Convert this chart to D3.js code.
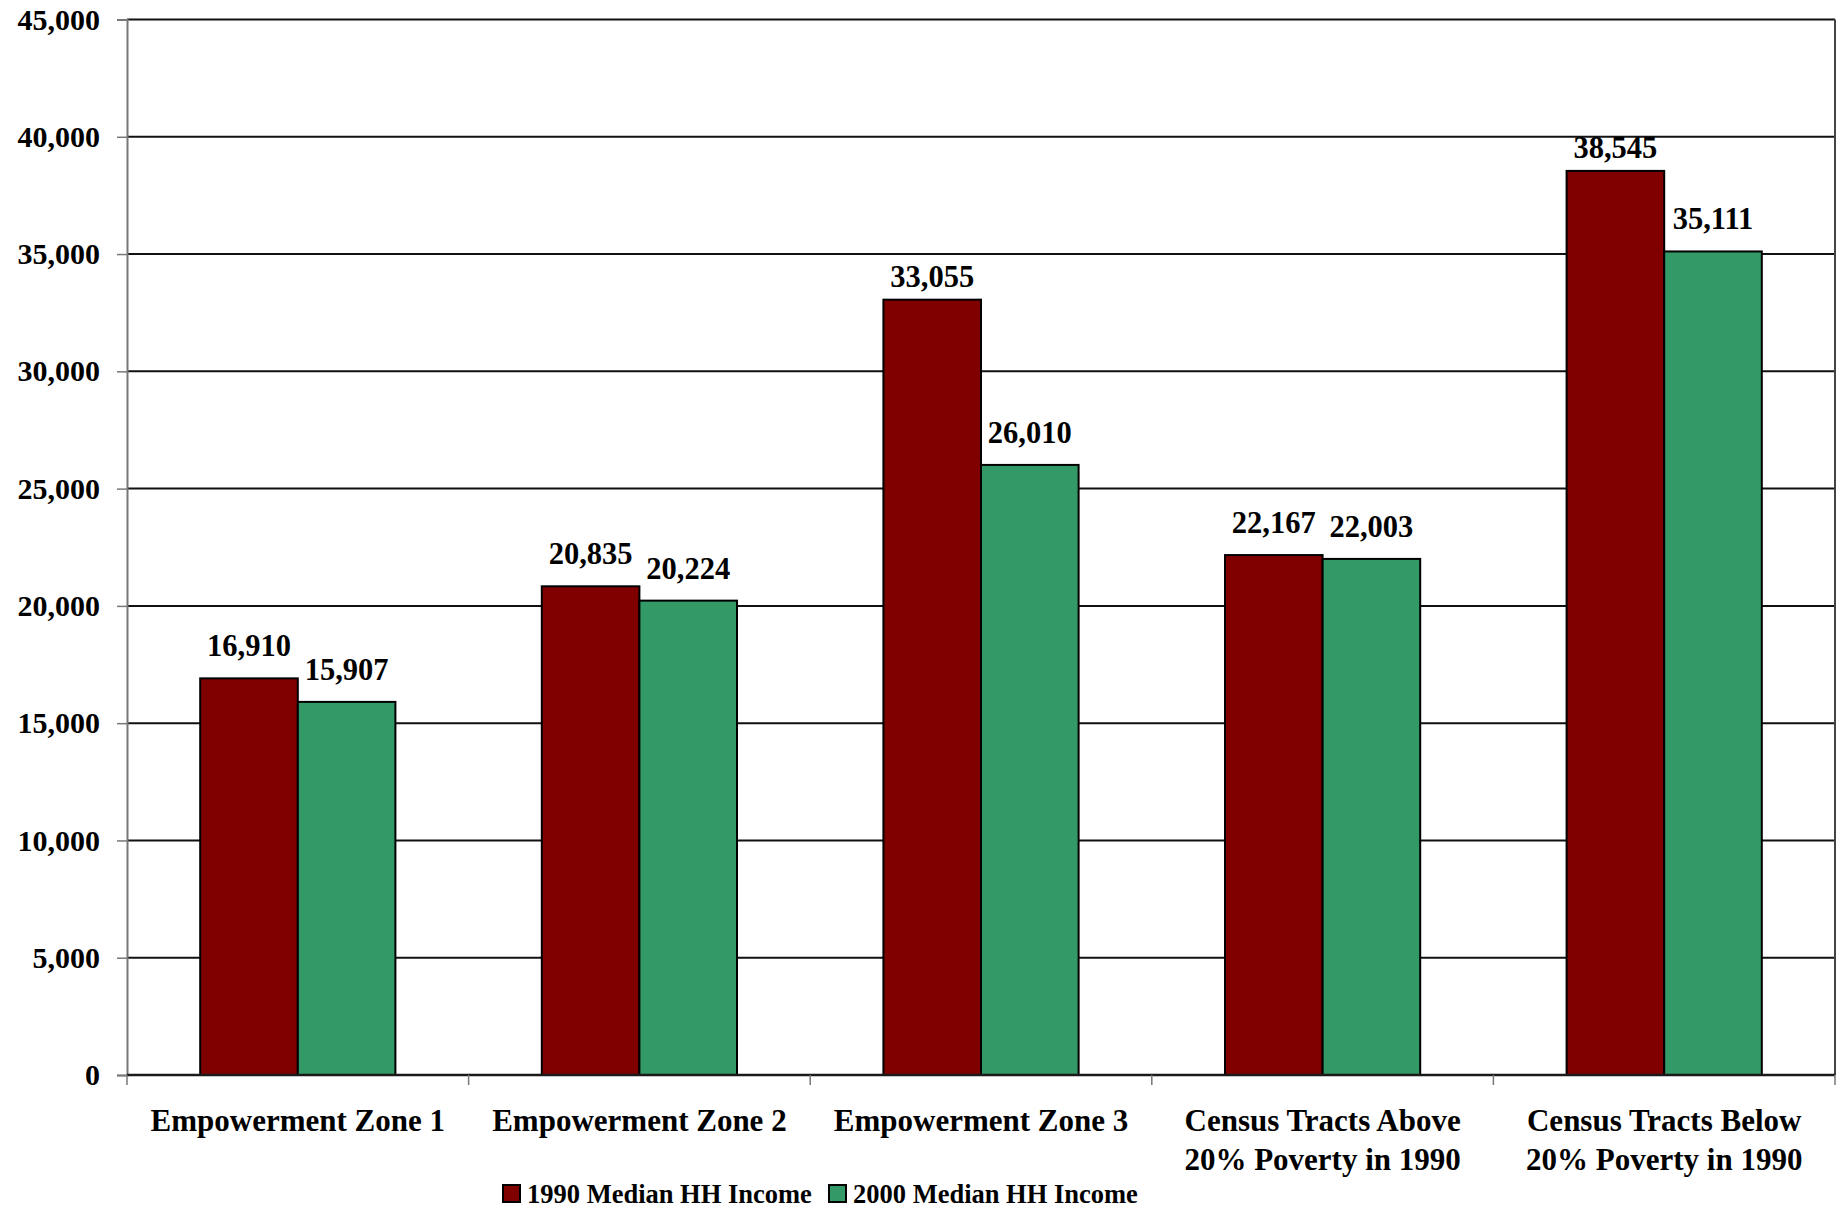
<!DOCTYPE html>
<html>
<head>
<meta charset="utf-8">
<script src="https://cdn.jsdelivr.net/npm/d3@7"></script>
<style>
  body { margin: 0; background: #fff; }
  text { font-family: "Liberation Serif", "Times New Roman", serif; font-weight: bold; fill: #000; }
</style>
</head>
<body>
<div id="chart"></div>
<script>
// chart data
var categories = ["Empowerment Zone 1", "Empowerment Zone 2", "Empowerment Zone 3",
                  "Census Tracts Above\n20% Poverty in 1990", "Census Tracts Below\n20% Poverty in 1990"];
var seriesNames = ["1990 Median HH Income", "2000 Median HH Income"];
var income1990 = [16910, 20835, 33055, 22167, 38545];
var income2000 = [15907, 20224, 26010, 22003, 35111];
var yTicks = [0, 5000, 10000, 15000, 20000, 25000, 30000, 35000, 40000, 45000];
var colors = ["#800000", "#339966"];

var W = 1839, H = 1209;
// plot area edges (don't use "top", it's a window global)
var plotL = 127, plotR = 1835, plotT = 19.5, plotB = 1075;

var svg = d3.select("#chart").append("svg")
    .attr("width", W).attr("height", H);

var x0 = d3.scaleBand().domain(categories).range([plotL, plotR]).padding(0);
var x1 = d3.scaleBand().domain(seriesNames).range([0, x0.bandwidth()])
    .paddingInner(0).paddingOuter(0.75);
var y = d3.scaleLinear().domain([0, 45000]).range([plotB, plotT]);

var fmt = d3.format(",");

// gridlines
svg.append("g").selectAll("line")
    .data(yTicks.filter(function(d) { return d > 0; }))
    .enter().append("line")
    .attr("x1", plotL).attr("x2", plotR)
    .attr("y1", function(d) { return y(d); })
    .attr("y2", function(d) { return y(d); })
    .attr("stroke", "#111").attr("stroke-width", 2);

// right border
svg.append("line")
    .attr("x1", plotR).attr("x2", plotR).attr("y1", plotT).attr("y2", plotB)
    .attr("stroke", "#444").attr("stroke-width", 2);

// y axis
var yAxis = svg.append("g").attr("transform", "translate(" + plotL + ",0)")
    .call(d3.axisLeft(y).tickValues(yTicks).tickFormat(fmt).tickSize(10).tickPadding(17));
yAxis.select(".domain").attr("stroke", "#777").attr("stroke-width", 2);
yAxis.selectAll(".tick line").attr("stroke", "#777").attr("stroke-width", 1.5);
yAxis.selectAll("text").attr("font-size", 30).attr("fill", "#000")
    .attr("font-family", "Liberation Serif").attr("font-weight", "bold");

// bars
var rows = categories.map(function(c, i) {
  return { cat: c, vals: [income1990[i], income2000[i]] };
});

var groups = svg.append("g").selectAll("g")
    .data(rows).enter().append("g")
    .attr("transform", function(d) { return "translate(" + x0(d.cat) + ",0)"; });

groups.selectAll("rect")
    .data(function(d) { return d.vals.map(function(v, j) { return { s: seriesNames[j], v: v, j: j }; }); })
    .enter().append("rect")
    .attr("x", function(d) { return x1(d.s); })
    .attr("y", function(d) { return y(d.v); })
    .attr("width", x1.bandwidth())
    .attr("height", function(d) { return plotB - y(d.v); })
    .attr("fill", function(d) { return colors[d.j]; })
    .attr("stroke", "#000").attr("stroke-width", 2);

// value labels sit ~22px above the bar, but get pulled down when they'd hit a gridline
function labelY(v) {
  var base = y(v) - 22;
  var hit = yTicks.some(function(t) {
    var gy = y(t);
    return gy >= base - 25 && gy <= base;
  });
  return hit ? y(v) - 13 : base;
}

groups.selectAll("text.val")
    .data(function(d) { return d.vals.map(function(v, j) { return { s: seriesNames[j], v: v }; }); })
    .enter().append("text").attr("class", "val")
    .attr("x", function(d) { return x1(d.s) + x1.bandwidth() / 2; })
    .attr("y", function(d) { return labelY(d.v); })
    .attr("text-anchor", "middle")
    .attr("font-size", 30.5)
    .text(function(d) { return fmt(d.v); });

// x axis
var xAxisLine = svg.append("g");
xAxisLine.append("line")
    .attr("x1", plotL).attr("x2", plotR).attr("y1", plotB).attr("y2", plotB)
    .attr("stroke", "#1a1a1a").attr("stroke-width", 2.5);
xAxisLine.selectAll("line.tk")
    .data(categories.concat([null]))
    .enter().append("line").attr("class", "tk")
    .attr("x1", function(d) { return d === null ? plotR : x0(d); })
    .attr("x2", function(d) { return d === null ? plotR : x0(d); })
    .attr("y1", plotB).attr("y2", plotB + 10)
    .attr("stroke", "#777").attr("stroke-width", 1.5);

var catLabels = svg.append("g").selectAll("text")
    .data(categories).enter().append("text")
    .attr("text-anchor", "middle")
    .attr("font-size", 31)
    .attr("x", function(d) { return x0(d) + x0.bandwidth() / 2; })
    .attr("y", 1131);
catLabels.selectAll("tspan")
    .data(function(d) { return d.split("\n"); })
    .enter().append("tspan")
    .attr("x", function() { return this.parentNode.getAttribute("x"); })
    .attr("dy", function(d, i) { return i === 0 ? 0 : 39; })
    .text(function(d) { return d; });

// legend
var legendX = [503, 829];
var legend = svg.append("g").selectAll("g")
    .data(seriesNames).enter().append("g")
    .attr("transform", function(d, i) { return "translate(" + legendX[i] + ",1185)"; });
legend.append("rect")
    .attr("width", 17).attr("height", 17)
    .attr("fill", function(d, i) { return colors[i]; })
    .attr("stroke", "#000").attr("stroke-width", 2);
legend.append("text")
    .attr("x", 24).attr("y", 18)
    .attr("font-size", 26.5)
    .text(function(d) { return d; });
</script>
</body>
</html>
